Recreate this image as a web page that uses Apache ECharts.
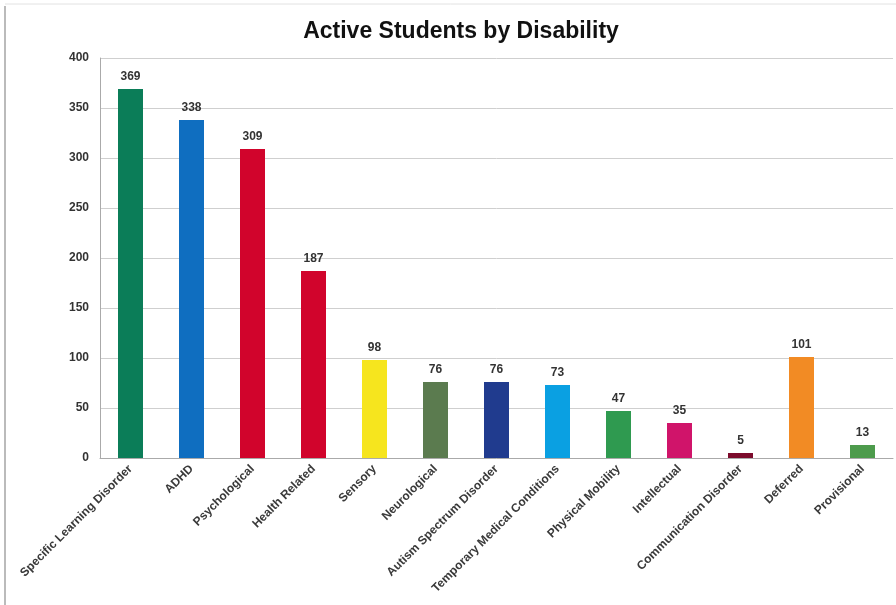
<!DOCTYPE html>
<html>
<head>
<meta charset="utf-8">
<script src="https://cdn.jsdelivr.net/npm/echarts@6/dist/echarts.min.js"></script>
<style>
  html, body { margin: 0; padding: 0; background: #fff; }
  #main { width: 896px; height: 605px; }
</style>
</head>
<body>
<div id="main"></div>
<script>
// categories and counts
var categories = ["Specific Learning Disorder", "ADHD", "Psychological", "Health Related", "Sensory",
  "Neurological", "Autism Spectrum Disorder", "Temporary Medical Conditions", "Physical Mobility",
  "Intellectual", "Communication Disorder", "Deferred", "Provisional"];
var counts = [369, 338, 309, 187, 98, 76, 76, 73, 47, 35, 5, 101, 13];
var barColors = ["#0b7d58", "#0f6ec0", "#d1042c", "#d1042c", "#f6e51e", "#5b7b4f", "#203b8e",
  "#0aa0e2", "#2f9a50", "#d0146a", "#7c0b2c", "#f28b24", "#4d9b4c"];

var chart = echarts.init(document.getElementById("main"));
chart.setOption({
  backgroundColor: "#fff",
  animation: false,
  title: {
    text: "Active Students by Disability",
    left: 456, top: 15, textAlign: "center",
    textStyle: { fontFamily: "Liberation Sans", fontSize: 23, fontWeight: "bold", color: "#111" }
  },
  graphic: [
    { type: "line", shape: { x1: 5, y1: 6, x2: 5, y2: 605 }, style: { stroke: "#bbb", lineWidth: 2 } },
    { type: "line", shape: { x1: 5, y1: 4, x2: 896, y2: 4 }, style: { stroke: "#e2e2e2", lineWidth: 1 } }
  ],
  grid: { left: 100, right: 3, top: 58, bottom: 147 },
  xAxis: {
    type: "category",
    data: categories,
    axisLine: { lineStyle: { color: "#aaa" } },
    axisTick: { show: false },
    axisLabel: {
      interval: 0, rotate: 45, margin: 9,
      fontFamily: "Liberation Sans", fontSize: 12, fontWeight: "bold", color: "#3a3a3a"
    }
  },
  yAxis: {
    type: "value",
    min: 0, max: 400, interval: 50,
    axisLine: { show: true, lineStyle: { color: "#aaa" } },
    axisLabel: { fontFamily: "Liberation Sans", fontSize: 12, fontWeight: "bold", color: "#333", margin: 11 },
    splitLine: { lineStyle: { color: "#cfcfcf" } }
  },
  series: [{
    type: "bar",
    data: counts.map(function (v, i) { return { value: v, itemStyle: { color: barColors[i] } }; }),
    barWidth: 25,
    label: {
      show: true, position: "top", distance: 6,
      fontFamily: "Liberation Sans", fontSize: 12, fontWeight: "bold", color: "#333"
    }
  }]
});
</script>
</body>
</html>
